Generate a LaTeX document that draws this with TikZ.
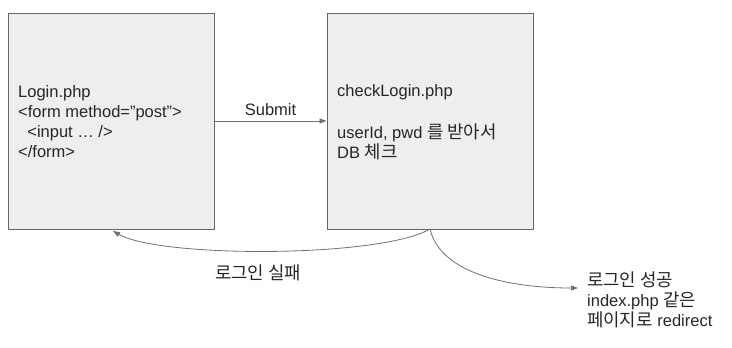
\documentclass[tikz,border=0pt]{standalone}
\usepackage{fontspec}
\setmainfont{Liberation Sans}
\newfontfamily\kr[Scale=1.08]{Noto Sans CJK KR}
\usetikzlibrary{arrows.meta}
\definecolor{boxfill}{HTML}{EEEEEE}
\definecolor{boxline}{HTML}{666666}
\definecolor{edge}{HTML}{707070}
\begin{document}
\begin{tikzpicture}[x=1pt,y=-1pt,
  page/.style={draw=boxline, fill=boxfill, line width=0.9pt, minimum width=206pt, minimum height=216pt, inner sep=0pt},
  txt/.style={font=\fontsize{16.5}{20}\selectfont, align=left, inner sep=0pt, text=black!85},
  conn/.style={draw=edge, line width=0.8pt, -{Triangle[length=7pt,width=5pt]}}]
\useasboundingbox (0,0) rectangle (732,348);
\node[page] (login) at (111,121) {};
\node[page] (check) at (430,121) {};
\node[txt, anchor=west] (logintxt) at (18,122) {Login.php\\<form method=”post”>\\\ \ <input … />\\</form>};
\node[txt, anchor=west] (checktxt) at (337,122) {checkLogin.php\\\strut\\userId, pwd {\kr 를 받아서}\\DB {\kr 체크}};
\draw[conn] (login.east |- 0,121) -- node[txt, above=5pt] (submit) {Submit} (check.west |- 0,121);
\coordinate (fs) at (430,229);
\coordinate (fe) at (113,231);
\draw[conn] (fs) .. controls (380,258) and (160,258) .. (fe);
\node[txt] (fail) at (258,273) {\kr 로그인 실패};
\coordinate (se) at (578,288);
\draw[conn] (fs) .. controls (440,272) and (505,288) .. (se);
\node[txt, anchor=west] (succ) at (587,300) {{\kr 로그인 성공}\\index.php {\kr 같은}\\{\kr 페이지로} redirect};
\end{tikzpicture}
\end{document}
